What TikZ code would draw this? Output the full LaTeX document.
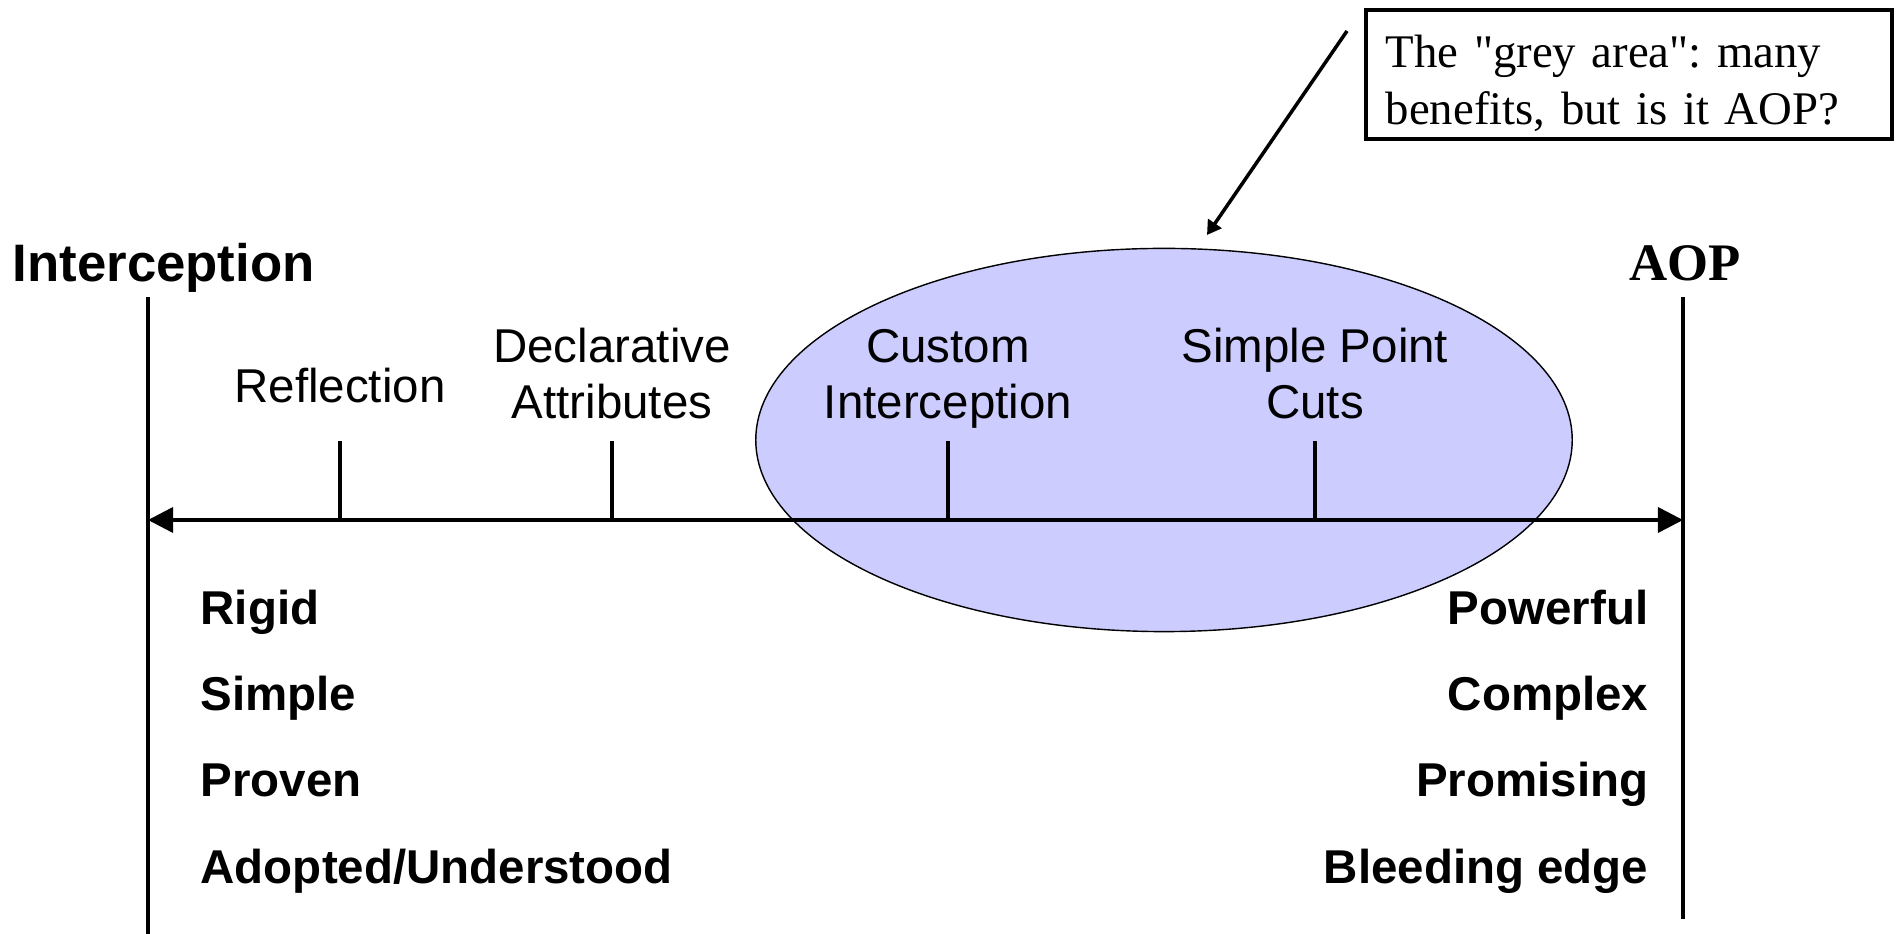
\documentclass[tikz,border=0pt]{standalone}
\usepackage{fontspec}
\setmainfont{Liberation Sans}
\newfontfamily\serifface{Liberation Serif}
\usetikzlibrary{arrows.meta,shapes.geometric}
\definecolor{greyarea}{RGB}{204,204,255}
\frenchspacing

\begin{document}
\begin{tikzpicture}[x=0.01cm,y=-0.01cm,
    bigtip/.tip={Triangle[length=0.25cm,width=0.25cm]},
    axisline/.style={line width=1pt},
    heading/.style={font=\fontsize{15}{18}\selectfont\bfseries, inner sep=0pt},
    trait/.style={font=\fontsize{13.5}{16}\selectfont\bfseries, inner sep=0pt},
    ticklabel/.style={font=\fontsize{13.5}{16}\selectfont, align=center, inner sep=0pt, text depth=0pt, anchor=south},
]
    \useasboundingbox (0,0) rectangle (1896,934);
    %grey area
    \node[ellipse, draw, thin, fill=greyarea, minimum width=8.16cm, minimum height=3.83cm, inner sep=0pt] (grey) at (1164,440) {};
    %end lines
    \coordinate (intTop) at (148,297);
    \coordinate (intBot) at (148,934);
    \coordinate (aopTop) at (1683,297);
    \coordinate (aopBot) at (1683,919);
    \draw[axisline] (intTop) -- (intBot);
    \draw[axisline] (aopTop) -- (aopBot);
    \node[heading, anchor=base west] (interception) at (12,282) {Interception};
    \node[heading, font=\serifface\fontsize{15}{18}\selectfont\bfseries, anchor=base] (aop) at (1685,281) {AOP};
    %draw axis
    \coordinate (axisL) at (148,520);
    \coordinate (axisR) at (1683,520);
    \draw[axisline, bigtip-bigtip] (axisL) -- (axisR);
    %draw ticks
    \foreach \x/\name in {340/refl,612/decl,948/cust,1315/cuts}
        {%
            \coordinate (\name) at (\x,520);
            \draw[axisline] (\name) -- ++(0,-79);
        }
    \node[ticklabel] (reflection) at (340,403) {Reflection};
    \node[ticklabel] (declarative) at (612,419) {Declarative\\Attributes};
    \node[ticklabel] (custom) at (948,419) {Custom\\Interception};
    \node[ticklabel] (pointcuts) at (1315,419) {Simple Point\\Cuts};
    %draw traits
    \foreach \y/\l/\r in {625/Rigid/Powerful,711/Simple/Complex,797/Proven/Promising,884/{Adopted/Understood}/{Bleeding edge}}
        {%
            \node[trait, anchor=base west] (lft\y) at (200,\y) {\l};
            \node[trait, anchor=base east] (rgt\y) at (1649,\y) {\r};
        }
    %callout
    \node[draw, line width=1pt, anchor=north west, text width=4.86cm, align=left, inner xsep=0.2cm, inner ysep=0pt, minimum height=1.29cm, font=\serifface\fontsize{13.3}{16.2}\selectfont] (note) at (1364,8) {\rule{0pt}{1.1em}The "grey area": many\\benefits, but is it AOP?};
    \coordinate (ptrTail) at (1347,31);
    \coordinate (ptrTip) at (1207,235);
    \draw[-{Triangle[length=0.14cm,width=0.16cm]}, line width=1pt] (ptrTail) -- (ptrTip);
\end{tikzpicture}
\end{document}
